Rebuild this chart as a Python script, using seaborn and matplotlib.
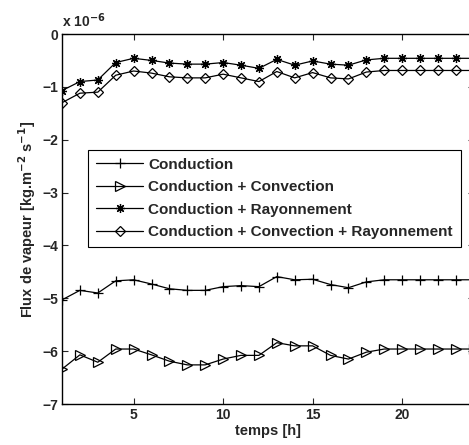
import matplotlib
matplotlib.use("Agg")
import matplotlib.pyplot as plt
import numpy as np
import seaborn as sns

hours = list(range(1, 25))

# flux values in units of 1e-6 kg.m-2.s-1
conduction = [-5.03, -4.85, -4.90, -4.67, -4.65, -4.73, -4.82, -4.85, -4.85, -4.78,
              -4.76, -4.78, -4.59, -4.65, -4.64, -4.74, -4.80, -4.69, -4.65, -4.65,
              -4.65, -4.65, -4.65, -4.65]
cond_conv = [-6.34, -6.07, -6.21, -5.96, -5.96, -6.07, -6.19, -6.26, -6.26, -6.15,
             -6.08, -6.08, -5.84, -5.90, -5.90, -6.08, -6.15, -6.02, -5.96, -5.96,
             -5.96, -5.96, -5.96, -5.96]
cond_ray = [-1.07, -0.90, -0.87, -0.54, -0.46, -0.50, -0.55, -0.57, -0.57, -0.54,
            -0.59, -0.65, -0.48, -0.59, -0.51, -0.57, -0.59, -0.49, -0.46, -0.46,
            -0.46, -0.46, -0.46, -0.46]
cond_conv_ray = [-1.30, -1.12, -1.10, -0.78, -0.70, -0.74, -0.81, -0.83, -0.83, -0.76,
                 -0.83, -0.90, -0.71, -0.83, -0.73, -0.83, -0.85, -0.72, -0.69, -0.69,
                 -0.69, -0.69, -0.69, -0.69]

labels = ["Conduction", "Conduction + Convection", "Conduction + Rayonnement",
          "Conduction + Convection + Rayonnement"]
markers = ["+", ">", (8, 2, 0), "D"]
marker_sizes = [7, 7, 6.5, 5]

sns.set_theme(style="ticks")
plt.rcParams["font.family"] = ["Liberation Sans", "DejaVu Sans"]
plt.rcParams["font.weight"] = "bold"
plt.rcParams["axes.labelweight"] = "bold"
plt.rcParams["mathtext.default"] = "bf"

fig = plt.figure(figsize=(4.69, 4.45), dpi=100)
ax = fig.add_axes([62 / 469, 41 / 445, 411.7 / 469, 370 / 445])

for vals, lab, mk, ms in zip([conduction, cond_conv, cond_ray, cond_conv_ray],
                             labels, markers, marker_sizes):
    sns.lineplot(x=hours, y=vals, ax=ax, color="black", linewidth=0.9,
                 marker=mk, markersize=ms, markeredgecolor="black",
                 markerfacecolor="none", markeredgewidth=0.9, label=lab)

ax.set_xlim(1, 24)
ax.set_ylim(-7, 0)
ax.set_xticks([5, 10, 15, 20])
ax.set_yticks(np.arange(-7, 1, 1))
ax.tick_params(direction="in", length=4, width=0.8, labelsize=10, pad=3,
               top=True, right=True)
for lbl in ax.get_xticklabels() + ax.get_yticklabels():
    lbl.set_fontweight("bold")
for sp in ax.spines.values():
    sp.set_visible(True)
    sp.set_linewidth(1.0)
    sp.set_color("black")

ax.set_xlabel("temps [h]", fontsize=10.5, fontweight="bold", labelpad=1)
ax.set_ylabel(r"Flux de vapeur [kg.m$^{-2}$ s$^{-1}$]", fontsize=10.5,
              fontweight="bold", labelpad=3)
ax.text(0.0, 1.012, r"x 10$^{-6}$", transform=ax.transAxes, fontsize=10,
        fontweight="bold", ha="left", va="bottom")

leg = ax.legend(loc="upper left", bbox_to_anchor=(0.064, 0.686), borderaxespad=0,
                fancybox=False, framealpha=1, edgecolor="black", borderpad=0.5,
                handlelength=3.1, handletextpad=0.33, labelspacing=0.55,
                prop={"weight": "bold", "size": 11})
leg.get_frame().set_linewidth(0.8)

fig.savefig("out.png", dpi=100)
